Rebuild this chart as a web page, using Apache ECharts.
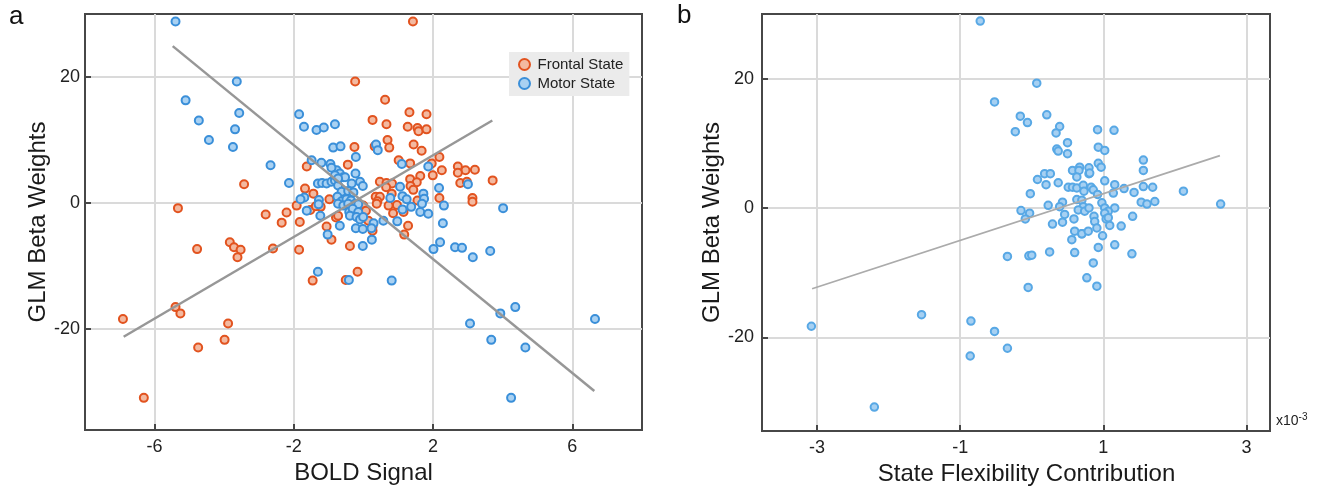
<!DOCTYPE html>
<html>
<head>
<meta charset="utf-8">
<script src="https://cdn.jsdelivr.net/npm/echarts@6/dist/echarts.min.js"></script>
<style>
  html, body { margin: 0; padding: 0; background: #fff; }
  #chart { width: 1331px; height: 498px; }
</style>
</head>
<body>
<div id="chart"></div>
<script>
// panel a: BOLD signal vs GLM beta weights, [bold, beta]
const frontalState = [
  [-5.33,-0.8],[-3.43,3.0],[-4.78,-7.3],[-3.84,-6.2],[-3.72,-7.0],[-3.53,-7.4],[-3.62,-8.6],[-2.60,-7.2],
  [-1.85,-7.4],[-1.46,-12.3],[-5.40,-16.5],[-5.26,-17.5],[-6.91,-18.4],[-3.89,-19.1],[-3.99,-21.7],[-4.75,-22.9],
  [-6.31,-30.9],[1.42,28.8],[-0.24,19.3],[0.62,16.4],[0.26,13.2],[0.66,12.5],[1.32,14.4],[1.81,14.1],
  [1.27,12.1],[1.55,11.9],[1.58,11.4],[1.81,11.7],[0.69,10.0],[0.74,8.8],[1.44,9.3],[1.67,8.3],
  [-0.26,8.9],[0.32,9.0],[1.01,6.8],[1.34,6.3],[2.18,7.3],[-1.63,5.8],[-0.45,6.1],[1.96,6.3],
  [2.71,5.8],[2.93,5.2],[3.20,5.3],[2.71,4.8],[2.25,5.2],[3.71,3.6],[1.99,4.4],[1.63,4.3],
  [1.34,3.8],[1.53,3.3],[1.35,2.7],[2.78,3.2],[2.97,3.4],[0.47,3.4],[0.66,3.2],[0.82,3.1],
  [0.65,2.5],[0.81,1.5],[1.43,2.1],[0.35,1.0],[0.47,1.0],[0.40,0.3],[2.18,0.8],[3.13,0.8],
  [3.13,0.2],[1.55,0.4],[0.96,-0.3],[0.72,-0.4],[0.85,-1.6],[0.38,-0.1],[1.15,-1.4],[1.28,-3.6],
  [1.17,-5.0],[0.26,-3.7],[0.26,-4.4],[0.14,-2.8],[-0.39,-6.8],[-0.92,-5.8],[-1.68,2.3],[-1.44,1.5],
  [-0.98,0.6],[-1.53,-1.1],[-1.83,-3.0],[-0.79,-2.3],[-0.73,-2.0],[-1.06,-3.7],[-1.92,-0.4],[-2.81,-1.8],
  [-2.21,-1.5],[-2.35,-3.1],[-1.23,-0.6],[-1.37,-0.5],[-0.01,-0.4],[0.07,-1.2],[-0.17,-10.9],[-0.51,-12.2]
]
const motorState = [
  [-5.40,28.8],[-3.64,19.3],[-5.11,16.3],[-4.73,13.1],[-3.57,14.3],[-3.69,11.7],[-4.44,10.0],[-3.75,8.9],
  [-1.85,14.1],[-1.71,12.1],[-1.35,11.6],[-1.14,12.0],[-0.82,12.5],[-2.67,6.0],[-1.49,6.8],[-1.21,6.4],
  [-0.95,6.2],[-2.14,3.2],[-1.31,3.1],[-1.19,3.2],[-1.06,3.1],[-1.70,0.9],[-1.28,0.5],[-1.29,-0.2],
  [-1.63,-1.2],[-1.24,-2.0],[-1.03,-5.0],[-1.31,-10.9],[-0.87,8.8],[-0.66,9.0],[0.36,9.3],[0.41,8.4],
  [-0.22,7.3],[1.10,6.2],[1.86,5.8],[-0.77,5.2],[-0.68,4.7],[-0.58,4.1],[-0.23,4.7],[-0.92,3.4],
  [-0.82,3.6],[-0.73,2.8],[-0.34,3.1],[-0.10,3.4],[-0.02,2.7],[-0.63,1.8],[-0.44,1.9],[-0.29,1.7],
  [1.05,2.6],[2.17,2.4],[3.00,3.0],[-0.75,1.0],[-0.63,0.3],[-0.49,0.6],[-0.36,0.4],[-0.24,-0.1],
  [-0.15,-0.2],[-0.73,-0.1],[-0.58,-0.4],[-0.44,-0.1],[0.77,0.8],[1.12,1.1],[1.24,0.6],[1.72,1.5],
  [1.74,0.7],[1.68,-0.1],[1.37,-0.6],[1.12,-1.0],[1.63,-1.4],[1.86,-1.7],[2.31,-0.4],[4.01,-0.8],
  [-0.41,-1.4],[-0.31,-0.9],[-0.15,-1.4],[-0.39,-2.0],[-0.20,-2.2],[0.97,-2.9],[0.57,-2.8],[0.29,-3.2],
  [2.28,-3.2],[-0.68,-3.6],[-0.22,-4.0],[-0.02,-4.1],[0.23,-4.0],[-0.10,-2.6],[-0.01,-2.2],[2.20,-6.2],
  [2.01,-7.3],[2.63,-7.0],[2.83,-7.1],[3.14,-8.6],[3.64,-7.6],[-0.02,-6.8],[0.24,-5.8],[-0.42,-12.2],
  [0.81,-12.3],[3.93,-17.5],[4.36,-16.5],[3.06,-19.1],[6.65,-18.4],[3.67,-21.7],[4.65,-22.9],[4.24,-30.9],
  [-1.81,0.6],[-0.92,5.6],[-0.82,4.4],[-0.53,4.1],[-0.73,3.9]
]
// fitted lines, end points
const frontalFit = [[-6.89,-21.2],[3.70,13.1]]
const motorFit = [[-5.48,24.9],[6.63,-29.8]]

// panel b: state flexibility contribution (x10^-3) vs GLM beta weights
const flexContribution = [
  [-0.72,28.9],[-0.52,16.4],[-3.08,-18.3],[-1.54,-16.5],[-0.85,-17.5],[-0.52,-19.1],[-0.86,-22.9],[-2.20,-30.8],
  [-0.34,-21.7],[-0.34,-7.5],[-0.04,-7.4],[0.00,-7.3],[-0.05,-12.3],[0.25,-6.8],[0.60,-6.9],[0.56,-4.9],
  [0.70,-4.0],[0.86,-8.5],[0.77,-10.8],[0.91,-12.1],[0.93,-6.1],[0.99,-4.3],[1.16,-5.7],[1.40,-7.1],
  [0.07,19.3],[0.21,14.4],[-0.16,14.2],[-0.06,13.2],[-0.23,11.8],[0.39,12.6],[0.34,11.6],[0.92,12.1],
  [1.15,12.0],[0.50,10.1],[0.35,9.1],[0.37,8.8],[0.50,8.4],[0.93,9.4],[1.02,8.9],[0.93,6.9],
  [0.97,6.3],[1.56,7.4],[1.56,5.8],[0.57,5.8],[0.67,6.3],[0.66,5.8],[0.80,6.2],[0.63,4.8],
  [0.80,5.3],[0.18,5.3],[0.26,5.3],[0.20,3.6],[0.08,4.4],[0.37,3.9],[-0.02,2.2],[0.51,3.2],
  [0.57,3.2],[0.63,3.1],[0.72,3.5],[0.83,3.2],[0.86,2.8],[0.73,2.6],[0.92,2.1],[1.02,4.2],
  [1.16,3.6],[1.29,3.0],[1.43,2.4],[1.14,2.3],[1.56,3.3],[1.69,3.2],[2.12,2.6],[2.64,0.6],
  [1.53,0.9],[1.61,0.6],[1.72,1.0],[0.23,0.4],[0.43,0.9],[0.39,0.2],[0.63,1.3],[0.70,1.2],
  [0.72,0.2],[0.65,-0.3],[0.74,-0.5],[0.80,0.0],[0.98,0.8],[1.02,0.0],[1.16,0.0],[1.07,-0.5],
  [-0.15,-0.4],[-0.03,-0.8],[-0.09,-1.7],[0.46,-1.0],[0.43,-2.2],[0.59,-1.7],[0.29,-2.5],[0.87,-1.3],
  [0.88,-2.1],[0.91,-3.1],[1.02,-0.8],[1.04,-1.7],[1.07,-1.5],[1.09,-2.7],[1.25,-2.8],[1.41,-1.3],
  [0.60,-3.6],[0.70,-4.0],[0.79,-3.6],[0.81,5.4]
]
const flexFit = [[-3.07,-12.5],[2.63,8.1]]

// tick labels
const boldTicks = [-6, -2, 2, 6]
const betaTicks = [-20, 0, 20]
const flexTicks = [-3, -1, 1, 3]

const font = '"Liberation Sans", Arial, Helvetica, sans-serif'
const axisColor = '#474747'

function valueAxis(gridIndex, min, max, ticks, name, nameGap, labelMargin, namePad) {
  return {
    type: 'value',
    gridIndex: gridIndex,
    min: min,
    max: max,
    name: name,
    nameLocation: 'middle',
    nameGap: nameGap,
    nameTextStyle: { fontFamily: font, fontSize: 24, color: '#1a1a1a', padding: namePad || 0 },
    axisLine: { show: true, onZero: false, lineStyle: { color: axisColor, width: 2 } },
    axisTick: { show: true, inside: true, length: 6, customValues: ticks, lineStyle: { color: axisColor, width: 2 } },
    axisLabel: { customValues: ticks, fontFamily: font, fontSize: 18, color: '#222', margin: labelMargin },
    splitLine: { show: true, lineStyle: { color: '#dadada', width: 2 } }
  }
}

function fitLine(data, xi, color, width) {
  return {
    type: 'line',
    xAxisIndex: xi,
    yAxisIndex: xi,
    data: data,
    showSymbol: false,
    silent: true,
    z: 5,
    lineStyle: { color: color, width: width }
  }
}

const chart = echarts.init(document.getElementById('chart'))
chart.setOption({
  animation: false,
  textStyle: { fontFamily: font },
  grid: [
    { left: 85, top: 14, width: 557, height: 416, show: true, borderColor: axisColor, borderWidth: 2 },
    { left: 762, top: 14, width: 508, height: 417, show: true, borderColor: axisColor, borderWidth: 2 }
  ],
  xAxis: [
    valueAxis(0, -8, 8, boldTicks, 'BOLD Signal', 31, 8),
    valueAxis(1, -3.77, 3.33, flexTicks, 'State Flexibility Contribution', 31, 8, [0, 0, 0, 21])
  ],
  yAxis: [
    valueAxis(0, -36, 30, betaTicks, 'GLM Beta Weights', 33, 5),
    valueAxis(1, -34.5, 30, betaTicks, 'GLM Beta Weights', 37, 8)
  ],
  legend: {
    data: ['Frontal State', 'Motor State'],
    orient: 'vertical',
    left: 509,
    top: 52,
    backgroundColor: '#ebebeb',
    padding: [5, 6, 5, 9],
    itemGap: 4,
    itemWidth: 16,
    itemHeight: 11,
    textStyle: { fontFamily: font, fontSize: 15, color: '#222' }
  },
  graphic: [
    { type: 'text', left: 9, top: 4, style: { text: 'a', font: '26px ' + font, fill: '#111' } },
    { type: 'text', left: 677, top: 3, style: { text: 'b', font: '26px ' + font, fill: '#111' } },
    {
      type: 'text', left: 1276, top: 412,
      style: {
        text: '{a|x10}{b|-3}',
        rich: {
          a: { fontFamily: font, fontSize: 14, fill: '#222', verticalAlign: 'bottom' },
          b: { fontFamily: font, fontSize: 10, fill: '#222', verticalAlign: 'top', padding: [0, 0, 6, 0] }
        }
      }
    }
  ],
  series: [
    {
      name: 'Frontal State', type: 'scatter', xAxisIndex: 0, yAxisIndex: 0,
      data: frontalState, symbolSize: 8,
      itemStyle: { color: '#f3b9a0', borderColor: '#e2531f', borderWidth: 2, opacity: 1 }
    },
    {
      name: 'Motor State', type: 'scatter', xAxisIndex: 0, yAxisIndex: 0,
      data: motorState, symbolSize: 8,
      itemStyle: { color: '#a9d1f2', borderColor: '#3a8fd9', borderWidth: 2, opacity: 1 }
    },
    fitLine(frontalFit, 0, '#979797', 2.5),
    fitLine(motorFit, 0, '#979797', 2.5),
    {
      name: 'Flexibility', type: 'scatter', xAxisIndex: 1, yAxisIndex: 1,
      data: flexContribution, symbolSize: 7.5,
      itemStyle: { color: '#a6d0f2', borderColor: '#58a8e5', borderWidth: 2, opacity: 1 }
    },
    fitLine(flexFit, 1, '#ababab', 1.8)
  ]
})
</script>
</body>
</html>
